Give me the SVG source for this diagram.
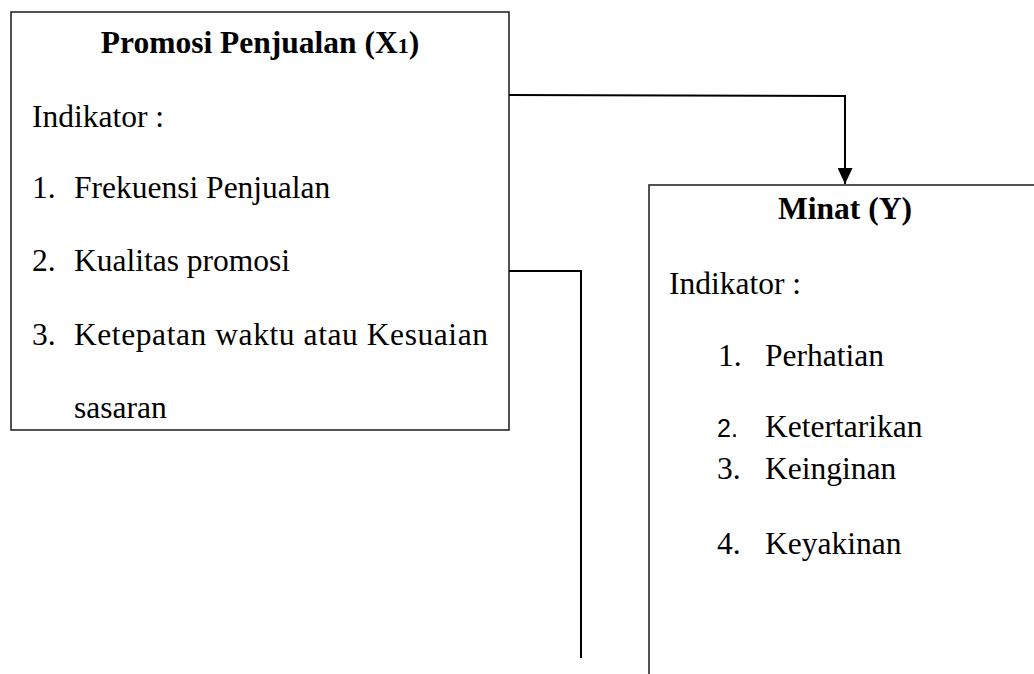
<svg xmlns="http://www.w3.org/2000/svg" width="1034" height="674" viewBox="0 0 1034 674">
  <defs>
    <style>
      .box { fill: #ffffff; stroke: #1a1a1a; stroke-width: 1.5; }
      .t { font-family: "Liberation Serif", "Times New Roman", serif; font-size: 31.5px; fill: #000; }
      .b { font-weight: bold; }
      .num2 { font-family: "Liberation Sans", Arial, sans-serif; font-size: 25px; fill: #000; }
      .conn { fill: none; stroke: #000; stroke-width: 2; }
    </style>
    <marker id="arrow" viewBox="0 0 16 15" refX="16" refY="7.5" markerWidth="16" markerHeight="15" markerUnits="userSpaceOnUse" orient="auto">
      <path d="M0,0 L16,7.5 L0,15 Z" fill="#000"/>
    </marker>
  </defs>
  <rect width="1034" height="674" fill="#ffffff"/>

  <g id="node-promosi">
    <rect class="box" x="11" y="12" width="498" height="418"/>
    <text class="t b" x="260" y="53" text-anchor="middle">Promosi Penjualan (X<tspan font-size="22px">1</tspan>)</text>
    <text class="t" x="32" y="127">Indikator :</text>
    <text class="t" x="32" y="198">1.</text>
    <text class="t" x="74" y="198">Frekuensi Penjualan</text>
    <text class="t" x="32" y="271">2.</text>
    <text class="t" x="74" y="271">Kualitas promosi</text>
    <text class="t" x="32" y="345">3.</text>
    <text class="t" x="74" y="345" textLength="414" lengthAdjust="spacing">Ketepatan waktu atau Kesuaian</text>
    <text class="t" x="74" y="418">sasaran</text>
  </g>

  <g id="node-minat">
    <rect class="box" x="649" y="185" width="400" height="500"/>
    <text class="t b" x="845" y="219" text-anchor="middle">Minat (Y)</text>
    <text class="t" x="669" y="294">Indikator :</text>
    <text class="t" x="718" y="366">1.</text>
    <text class="t" x="765" y="366">Perhatian</text>
    <text class="num2" x="717" y="437">2.</text>
    <text class="t" x="765" y="437">Ketertarikan</text>
    <text class="t" x="717" y="479">3.</text>
    <text class="t" x="765" y="479">Keinginan</text>
    <text class="t" x="717" y="554">4.</text>
    <text class="t" x="765" y="554">Keyakinan</text>
  </g>

  <g id="connectors">
    <path class="conn" d="M509,95 L845,96 L845,184" marker-end="url(#arrow)"/>
    <path class="conn" d="M509,271 L581,271 L581,658"/>
  </g>
</svg>
